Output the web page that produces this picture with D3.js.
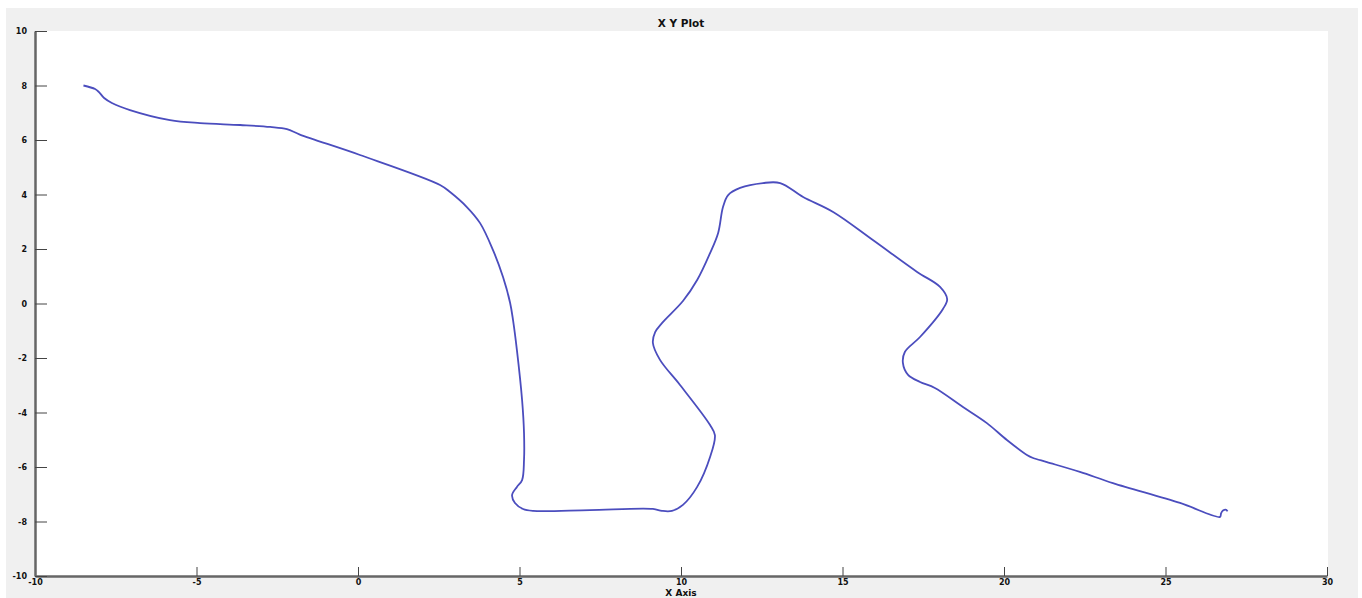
<!DOCTYPE html>
<html>
<head>
<meta charset="utf-8">
<script src="https://cdn.jsdelivr.net/npm/d3@7"></script>
<style>
  body { margin: 0; background: #fff; }
  svg { display: block; }
  text { font-family: "DejaVu Sans", sans-serif; font-weight: bold; fill: #111; }
</style>
</head>
<body>
<div id="chart"></div>
<script>
(function () {
  const xTicks = [-10, -5, 0, 5, 10, 15, 20, 25, 30]
  const yTicks = [-10, -8, -6, -4, -2, 0, 2, 4, 6, 8, 10]

  // path, in axis units
  const xs = [-8.5, -8.14, -8.02, -7.86, -7.62, -7.06, -5.82, -4.89, -3.65, -2.72, -2.2, -1.8, 0.06, 2.54, 2.85, 3.37, 3.78, 4.18, 4.49, 4.71, 4.8, 4.92, 5.08, 5.14, 5.14, 5.08, 4.92, 4.77, 4.86, 5.11, 5.42, 7.18, 9.13, 9.41, 9.72, 10.06, 10.5, 10.9, 11.05, 10.9, 9.97, 9.35, 9.13, 9.2, 9.41, 10.06, 10.5, 10.9, 11.15, 11.3, 11.46, 11.83, 12.54, 13.07, 13.78, 14.71, 15.94, 17.31, 18.02, 18.24, 18.11, 17.4, 16.93, 16.87, 17.03, 17.4, 17.86, 18.73, 19.47, 20.09, 20.71, 20.9, 21.33, 22.35, 23.37, 25.45, 26.69, 26.72, 26.78, 26.88, 26.92]
  const ys = [8.0, 7.87, 7.76, 7.54, 7.36, 7.1, 6.73, 6.62, 6.55, 6.48, 6.4, 6.2, 5.45, 4.35, 4.09, 3.54, 2.95, 1.96, 0.97, 0.02, -0.61, -1.71, -3.54, -4.75, -5.74, -6.48, -6.73, -7.03, -7.32, -7.54, -7.61, -7.58, -7.54, -7.61, -7.61, -7.39, -6.73, -5.63, -4.83, -4.46, -2.99, -2.07, -1.45, -1.05, -0.72, 0.09, 0.86, 1.85, 2.59, 3.54, 3.98, 4.24, 4.42, 4.42, 3.91, 3.36, 2.33, 1.16, 0.61, 0.16, -0.2, -1.23, -1.78, -2.18, -2.62, -2.88, -3.1, -3.8, -4.39, -5.01, -5.56, -5.67, -5.82, -6.18, -6.59, -7.32, -7.83, -7.7, -7.6, -7.57, -7.63]

  const width = 1362
  const height = 598
  const plot = { left: 35, top: 31, right: 1328, bottom: 576 }

  const x = d3.scaleLinear([-10, 30], [plot.left, plot.right - 1])
  const y = d3.scaleLinear([-10, 10], [plot.bottom, plot.top])

  const svg = d3.select('#chart').append('svg')
    .attr('width', width)
    .attr('height', height)

  svg.append('rect')
    .attr('x', 6).attr('y', 8)
    .attr('width', 1352).attr('height', height - 8)
    .attr('fill', '#f0f0f0')

  svg.append('rect')
    .attr('x', plot.left).attr('y', plot.top)
    .attr('width', plot.right - plot.left)
    .attr('height', plot.bottom - plot.top)
    .attr('fill', '#fff')

  const points = xs.map(function (v, i) { return [v, ys[i]] })

  svg.append('path')
    .datum(points)
    .attr('d', d3.line()
      .x(function (d) { return x(d[0]) })
      .y(function (d) { return y(d[1]) })
      .curve(d3.curveCatmullRom.alpha(0.5)))
    .attr('fill', 'none')
    .attr('stroke', '#4b4dbe')
    .attr('stroke-width', 1.8)
    .attr('stroke-linejoin', 'round')

  const plain = function (d) { return String(d) }
  const xAxis = d3.axisBottom(x).tickValues(xTicks).tickFormat(plain).tickSizeInner(-9).tickSizeOuter(0).tickPadding(4)
  const yAxis = d3.axisLeft(y).tickValues(yTicks).tickFormat(plain).tickSizeInner(-12).tickSizeOuter(0).tickPadding(4)

  const gx = svg.append('g')
    .attr('transform', `translate(0,${plot.bottom})`)
    .call(xAxis)
  const gy = svg.append('g')
    .attr('transform', `translate(${plot.left},0)`)
    .call(yAxis)

  ;[gx, gy].forEach(function (g) {
    g.select('.domain').attr('stroke', '#666').attr('stroke-width', 2.5)
    g.selectAll('.tick line').attr('stroke', '#444').attr('stroke-width', 1)
    g.selectAll('.tick text')
      .attr('font-size', 8)
      .attr('font-family', '"DejaVu Sans", sans-serif')
      .attr('font-weight', 'bold')
      .attr('fill', '#111')
  })
  gx.selectAll('.tick text').attr('dy', '0.6em')
  gy.selectAll('.tick text').attr('x', -8)

  svg.append('text')
    .attr('x', 681).attr('y', 27)
    .attr('text-anchor', 'middle')
    .attr('font-size', 10.5)
    .text('X Y Plot')

  svg.append('text')
    .attr('x', 681).attr('y', 596)
    .attr('text-anchor', 'middle')
    .attr('font-size', 9)
    .text('X Axis')
})();
</script>
</body>
</html>
